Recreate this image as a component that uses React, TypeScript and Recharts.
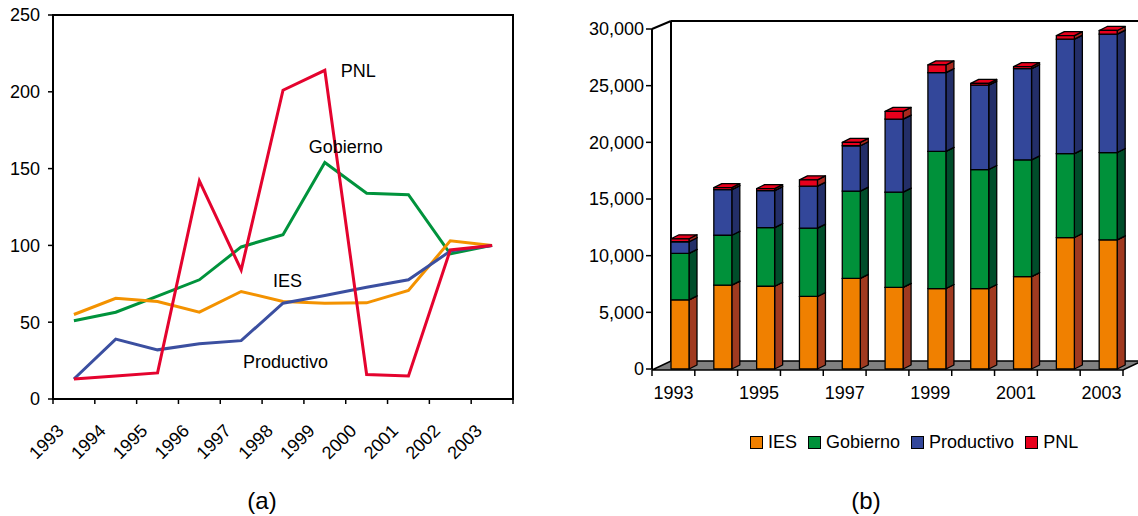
import React from 'react';
import {
  LineChart, Line, BarChart, Bar, XAxis, YAxis, ReferenceArea, ReferenceDot,
} from 'recharts';

// ---------- data ----------
const years = ['1993', '1994', '1995', '1996', '1997', '1998', '1999', '2000', '2001', '2002', '2003'];

// (a) índices (2003 = 100)
const idxIES = [55, 65.6, 63.5, 56.5, 70, 63.5, 62.4, 62.6, 70.6, 103, 100];
const idxGobierno = [51, 56.5, 67, 77.6, 99, 107, 154, 134, 133, 94.5, 100];
const idxProductivo = [13, 39, 32, 36, 38, 62.4, 67.4, 72.8, 77.6, 96.3, 100];
const idxPNL = [13, 15, 17, 142, 84, 201, 214, 16, 15, 97, 100];
const leftTicks = [0, 50, 100, 150, 200, 250];

// (b) valores absolutos
const absIES = [6100, 7400, 7300, 6400, 8000, 7200, 7100, 7100, 8150, 11600, 11400];
const absGobierno = [4100, 4400, 5180, 6030, 7700, 8400, 12100, 10500, 10300, 7400, 7700];
const absProductivo = [1030, 4030, 3260, 3700, 4000, 6450, 6950, 7450, 8050, 10100, 10450];
const absPNL = [260, 180, 180, 560, 300, 680, 680, 150, 180, 320, 320];
const rightTicks = [0, 5000, 10000, 15000, 20000, 25000, 30000];

const seriesNames = ['IES', 'Gobierno', 'Productivo', 'PNL'];
const frontColors = ['#F08000', '#00913A', '#33479A', '#E8001C'];
const sideColors = ['#A03A20', '#004D2A', '#232E68', '#A8281E'];
const lineColors = ['#F39200', '#00933C', '#3B4FA0', '#E4032E'];

const lineLabels = [
  { name: 'PNL', x: '1999', y: 214, dx: 16 },
  { name: 'Gobierno', x: '1999', y: 164.5, dx: -16 },
  { name: 'IES', x: '1998', y: 77, dx: -10 },
  { name: 'Productivo', x: '1998', y: 24.5, dx: -40 },
];

const lineData = years.map((y, i) => ({
  year: y,
  IES: idxIES[i],
  Gobierno: idxGobierno[i],
  Productivo: idxProductivo[i],
  PNL: idxPNL[i],
}));

const barData = years.map((y, i) => ({
  year: y,
  IES: absIES[i],
  Gobierno: absGobierno[i],
  Productivo: absProductivo[i],
  PNL: absPNL[i],
}));

// ---------- layout ----------
const FONT = "'Liberation Sans', Arial, sans-serif";
const L_W = 540, L_H = 470;
const L_MARGIN = { top: 15, right: 27, left: 8, bottom: 11 };
const L_YW = 45;
const L_BW = (L_W - L_MARGIN.left - L_YW - L_MARGIN.right) / years.length;

const R_W = 578, R_H = 516;
const R_MARGIN = { top: 29, right: 15, left: 12, bottom: 117 };
const R_YW = 80;
const R_BW = (R_W - R_MARGIN.left - R_YW - R_MARGIN.right) / years.length;
const WALL_DX = 19, WALL_DY = 8;
const BAR_SHIFT = 7, BAR_DX = 8, BAR_DY = 4;

const LeftTick = (props: any) => {
  const { x, y, payload, index } = props;
  const ax = x - 9, ay = y + 33;
  return (
    <g>
      <line x1={x - L_BW / 2} y1={y} x2={x - L_BW / 2} y2={y + 5} stroke="#000" strokeWidth={1.5} />
      {index === years.length - 1 && (
        <line x1={x + L_BW / 2} y1={y} x2={x + L_BW / 2} y2={y + 5} stroke="#000" strokeWidth={1.5} />
      )}
      <text x={ax} y={ay} transform={`rotate(-45 ${ax} ${ay})`} textAnchor="end" fontSize={18} fill="#000" fontFamily={FONT}>
        {payload.value}
      </text>
    </g>
  );
};

const RightTick = (props: any) => {
  const { x, y, payload, index } = props;
  return (
    <g>
      <line x1={x - R_BW / 2} y1={y + 1} x2={x - R_BW / 2} y2={y + 7} stroke="#000" strokeWidth={1.5} />
      {index === years.length - 1 && (
        <line x1={x + R_BW / 2} y1={y + 1} x2={x + R_BW / 2} y2={y + 7} stroke="#000" strokeWidth={1.5} />
      )}
      {index % 2 === 0 && (
        <text x={x} y={y + 30} textAnchor="middle" fontSize={18} fill="#000" fontFamily={FONT}>
          {payload.value}
        </text>
      )}
    </g>
  );
};

const make3D = (front: string, side: string) => (props: any) => {
  const { x, y, width, height } = props;
  if (x == null || y == null || !width || height == null) return <g />;
  const X = x + BAR_SHIFT;
  const Y = y;
  const B = y + height;
  return (
    <g stroke="#000" strokeWidth={1.3} strokeLinejoin="round">
      <polygon
        points={`${X + width},${Y} ${X + width + BAR_DX},${Y - BAR_DY} ${X + width + BAR_DX},${B - BAR_DY} ${X + width},${B}`}
        fill={side}
      />
      <polygon
        points={`${X},${Y} ${X + BAR_DX},${Y - BAR_DY} ${X + width + BAR_DX},${Y - BAR_DY} ${X + width},${Y}`}
        fill={front}
      />
      <rect x={X} y={Y} width={width} height={height} fill={front} />
    </g>
  );
};

const Walls = (props: any) => {
  const { x, y, width, height } = props;
  const b = y + height;
  return (
    <g>
      <rect x={x + WALL_DX} y={y - WALL_DY} width={width + 40} height={height} fill="#fff" stroke="none" />
      <line x1={x + WALL_DX} y1={y - WALL_DY} x2={x + width + 60} y2={y - WALL_DY} stroke="#000" strokeWidth={2} />
      <line x1={x + WALL_DX} y1={y - WALL_DY} x2={x + WALL_DX} y2={b - WALL_DY} stroke="#000" strokeWidth={2} />
      <line x1={x} y1={y} x2={x + WALL_DX} y2={y - WALL_DY} stroke="#000" strokeWidth={2} />
      <polygon
        points={`${x},${b + 1} ${x + width},${b + 1} ${x + width + WALL_DX},${b - WALL_DY} ${x + WALL_DX},${b - WALL_DY}`}
        fill="#808080"
        stroke="#000"
        strokeWidth={1.5}
      />
    </g>
  );
};

const LabelShape = (dx: number, text: string) => (props: any) => {
  const { cx, cy } = props;
  return (
    <text x={cx + dx} y={cy} dy="0.35em" fontSize={18} fill="#000" fontFamily={FONT}>
      {text}
    </text>
  );
};

const Legend3D = () => (
  <div
    style={{
      position: 'absolute', left: 750, top: 430, display: 'flex', alignItems: 'center',
      fontFamily: FONT, fontSize: 18, color: '#000', whiteSpace: 'nowrap', lineHeight: '24px',
    }}
  >
    {seriesNames.map((n, i) => (
      <div key={n} style={{ display: 'flex', alignItems: 'center', marginRight: 11 }}>
        <span
          style={{
            display: 'inline-block', width: 11, height: 11, background: frontColors[i],
            border: '1px solid #000', marginRight: 5,
          }}
        />
        <span>{n}</span>
      </div>
    ))}
  </div>
);

export default function App() {
  return (
    <div style={{ position: 'relative', width: 1138, height: 516, background: '#fff', fontFamily: FONT }}>
      <style>{`body{margin:0}`}</style>

      {/* (a) */}
      <div style={{ position: 'absolute', left: 0, top: 0 }}>
        <LineChart width={L_W} height={L_H} data={lineData} margin={L_MARGIN}>
          <XAxis
            dataKey="year"
            scale="band"
            interval={0}
            height={60}
            tickSize={0}
            tickMargin={0}
            tickLine={false}
            axisLine={{ stroke: '#000', strokeWidth: 2 }}
            tick={<LeftTick />}
          />
          <YAxis
            domain={[0, 250]}
            ticks={leftTicks}
            width={L_YW}
            tickSize={5}
            tickMargin={8}
            axisLine={{ stroke: '#000', strokeWidth: 2 }}
            tickLine={{ stroke: '#000', strokeWidth: 1.5 }}
            tick={{ fill: '#000', fontSize: 18, fontFamily: FONT }}
          />
          <ReferenceArea y1={0} y2={250} fill="none" stroke="#000" strokeWidth={2} fillOpacity={0} />
          <Line dataKey="Gobierno" stroke={lineColors[1]} strokeWidth={3} dot={false} isAnimationActive={false} type="linear" />
          <Line dataKey="IES" stroke={lineColors[0]} strokeWidth={3} dot={false} isAnimationActive={false} type="linear" />
          <Line dataKey="Productivo" stroke={lineColors[2]} strokeWidth={3} dot={false} isAnimationActive={false} type="linear" />
          <Line dataKey="PNL" stroke={lineColors[3]} strokeWidth={3} dot={false} isAnimationActive={false} type="linear" />
          {lineLabels.map((l) => (
            <ReferenceDot key={l.name} x={l.x} y={l.y} r={0} shape={LabelShape(l.dx, l.name)} />
          ))}
        </LineChart>
      </div>

      {/* (b) */}
      <div style={{ position: 'absolute', left: 560, top: 0 }}>
        <BarChart width={R_W} height={R_H} data={barData} margin={R_MARGIN} barSize={18}>
          <ReferenceArea y1={0} y2={30000} shape={<Walls />} />
          <XAxis
            dataKey="year"
            interval={0}
            height={30}
            tickSize={0}
            tickMargin={0}
            tickLine={false}
            axisLine={false}
            tick={<RightTick />}
          />
          <YAxis
            domain={[0, 30000]}
            ticks={rightTicks}
            width={R_YW}
            tickSize={6}
            tickMargin={2}
            tickFormatter={(v: number) => v.toLocaleString('en-US')}
            axisLine={{ stroke: '#000', strokeWidth: 2 }}
            tickLine={{ stroke: '#000', strokeWidth: 1.5 }}
            tick={{ fill: '#000', fontSize: 18, fontFamily: FONT }}
          />
          {seriesNames.map((n, i) => (
            <Bar key={n} dataKey={n} stackId="a" isAnimationActive={false} shape={make3D(frontColors[i], sideColors[i])} />
          ))}
        </BarChart>
      </div>

      <Legend3D />

      <div style={{ position: 'absolute', left: 262, top: 501, transform: 'translate(-50%,-50%)', fontSize: 24, fontFamily: FONT }}>(a)</div>
      <div style={{ position: 'absolute', left: 866, top: 501, transform: 'translate(-50%,-50%)', fontSize: 24, fontFamily: FONT }}>(b)</div>
    </div>
  );
}
